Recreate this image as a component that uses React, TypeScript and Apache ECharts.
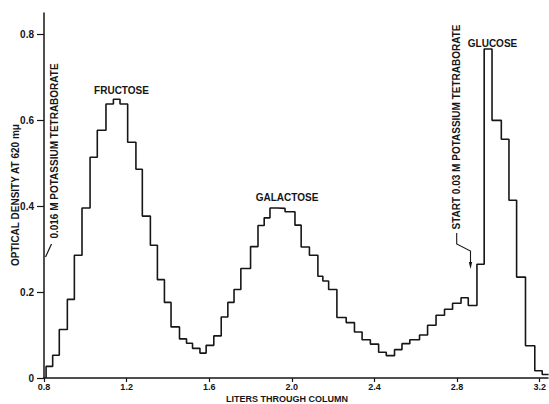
import React, { useEffect, useRef } from "react";
import * as echarts from "echarts";

const fractionStart = [
  0.81, 0.842, 0.874, 0.913, 0.947, 0.984, 1.023, 1.058, 1.1, 1.136,
  1.168, 1.205, 1.245, 1.276, 1.315, 1.349, 1.383, 1.415, 1.456, 1.49,
  1.519, 1.555, 1.585, 1.622, 1.658, 1.69, 1.72, 1.753, 1.8, 1.836,
  1.866, 1.894, 1.93, 1.967, 2.015, 2.045, 2.085, 2.126, 2.15, 2.178,
  2.218, 2.263, 2.303, 2.34, 2.38, 2.42, 2.457, 2.497, 2.533, 2.571,
  2.618, 2.657, 2.698, 2.739, 2.778, 2.819, 2.854, 2.896, 2.931, 2.969,
  3.014, 3.051, 3.088, 3.131, 3.176, 3.212,
];
// Optical density at 620 mμ of each fraction
const opticalDensity = [
  0.027, 0.053, 0.113, 0.183, 0.286, 0.396, 0.514, 0.577, 0.638, 0.649,
  0.638, 0.549, 0.486, 0.377, 0.309, 0.229, 0.176, 0.119, 0.091, 0.081,
  0.069, 0.058, 0.076, 0.098, 0.142, 0.176, 0.206, 0.255, 0.306, 0.355,
  0.373, 0.396, 0.395, 0.387, 0.356, 0.305, 0.286, 0.237, 0.226, 0.206,
  0.141, 0.129, 0.107, 0.089, 0.079, 0.06, 0.052, 0.066, 0.08, 0.089,
  0.1, 0.123, 0.146, 0.16, 0.174, 0.187, 0.169, 0.265, 0.766, 0.6,
  0.556, 0.414, 0.235, 0.075, 0.017, 0.008,
];
const lastFractionEnd = 3.243;

const xTicks = [0.8, 1.2, 1.6, 2.0, 2.4, 2.8, 3.2];
const yTicks = [0, 0.2, 0.4, 0.6, 0.8];

const FONT = "Liberation Sans";
const INK = "#161616";

export default function App() {
  const ref = useRef<HTMLDivElement>(null);

  useEffect(() => {
    if (!ref.current) return;
    const chart = echarts.init(ref.current, null, { renderer: "svg" });

    const data: number[][] = [[fractionStart[0], 0]];
    fractionStart.forEach((x, i) => data.push([x, opticalDensity[i]]));
    data.push([lastFractionEnd, opticalDensity[opticalDensity.length - 1]]);

    const textStyle = (size: number) => ({
      fill: INK,
      fontFamily: FONT,
      fontWeight: "bold" as const,
      fontSize: size,
      align: "center" as const,
      verticalAlign: "middle" as const,
    });

    chart.setOption({
      animation: false,
      backgroundColor: "#ffffff",
      grid: { left: 44, right: 1, top: 13, bottom: 26, containLabel: false },
      xAxis: {
        type: "value",
        min: 0.8,
        max: 3.24,
        interval: 0.4,
        axisLine: { show: true, lineStyle: { color: INK, width: 1.5 } },
        axisTick: {
          show: true,
          length: 4,
          customValues: xTicks,
          lineStyle: { color: INK, width: 1.2 },
        },
        axisLabel: {
          customValues: xTicks,
          margin: 4,
          color: INK,
          fontFamily: FONT,
          fontWeight: "bold",
          fontSize: 9,
          formatter: (v: number) => v.toFixed(1),
        },
        splitLine: { show: false },
      },
      yAxis: {
        type: "value",
        min: 0,
        max: 0.85,
        interval: 0.2,
        axisLine: { show: true, lineStyle: { color: INK, width: 1.5 } },
        axisTick: {
          show: true,
          length: 7,
          customValues: yTicks,
          lineStyle: { color: INK, width: 1.2 },
        },
        axisLabel: {
          customValues: yTicks,
          margin: 10,
          color: INK,
          fontFamily: FONT,
          fontWeight: "bold",
          fontSize: 10,
          formatter: (v: number) => (v === 0 ? "0" : v.toFixed(1)),
        },
        splitLine: { show: false },
      },
      series: [
        {
          type: "line",
          step: "end",
          data,
          showSymbol: false,
          symbol: "none",
          lineStyle: { color: INK, width: 1.6 },
          z: 3,
        },
      ],
      graphic: [
        { type: "text", x: 121.5, y: 90, style: { text: "FRUCTOSE", ...textStyle(10) } },
        { type: "text", x: 287, y: 197, style: { text: "GALACTOSE", ...textStyle(10) } },
        { type: "text", x: 492.5, y: 43, style: { text: "GLUCOSE", ...textStyle(10) } },
        {
          type: "text",
          x: 15,
          y: 195,
          rotation: Math.PI / 2,
          style: { text: "OPTICAL DENSITY AT 620 mμ", ...textStyle(10) },
        },
        {
          type: "text",
          x: 287,
          y: 398.5,
          style: { text: "LITERS THROUGH COLUMN", ...textStyle(9) },
        },
        {
          type: "text",
          x: 54,
          y: 151,
          rotation: Math.PI / 2,
          style: { text: "0.016 M POTASSIUM TETRABORATE", ...textStyle(10) },
        },
        {
          type: "line",
          shape: { x1: 51.5, y1: 244, x2: 45.5, y2: 257 },
          style: { stroke: INK, lineWidth: 1.2 },
        },
        {
          type: "text",
          x: 456.7,
          y: 127,
          rotation: Math.PI / 2,
          style: { text: "START 0.03 M POTASSIUM TETRABORATE", ...textStyle(10) },
        },
        {
          type: "polyline",
          shape: {
            points: [
              [456.7, 233],
              [456.7, 244],
              [470.5, 251],
              [470.5, 264],
            ],
          },
          style: { stroke: INK, lineWidth: 1.1, fill: "none" },
        },
        {
          type: "polygon",
          shape: {
            points: [
              [468.8, 262],
              [472.2, 262],
              [470.5, 269],
            ],
          },
          style: { fill: INK },
        },
      ],
    });

    return () => chart.dispose();
  }, []);

  return (
    <div
      ref={ref}
      style={{
        position: "fixed",
        left: 0,
        top: 0,
        width: 549,
        height: 404,
        background: "#fff",
      }}
    />
  );
}
